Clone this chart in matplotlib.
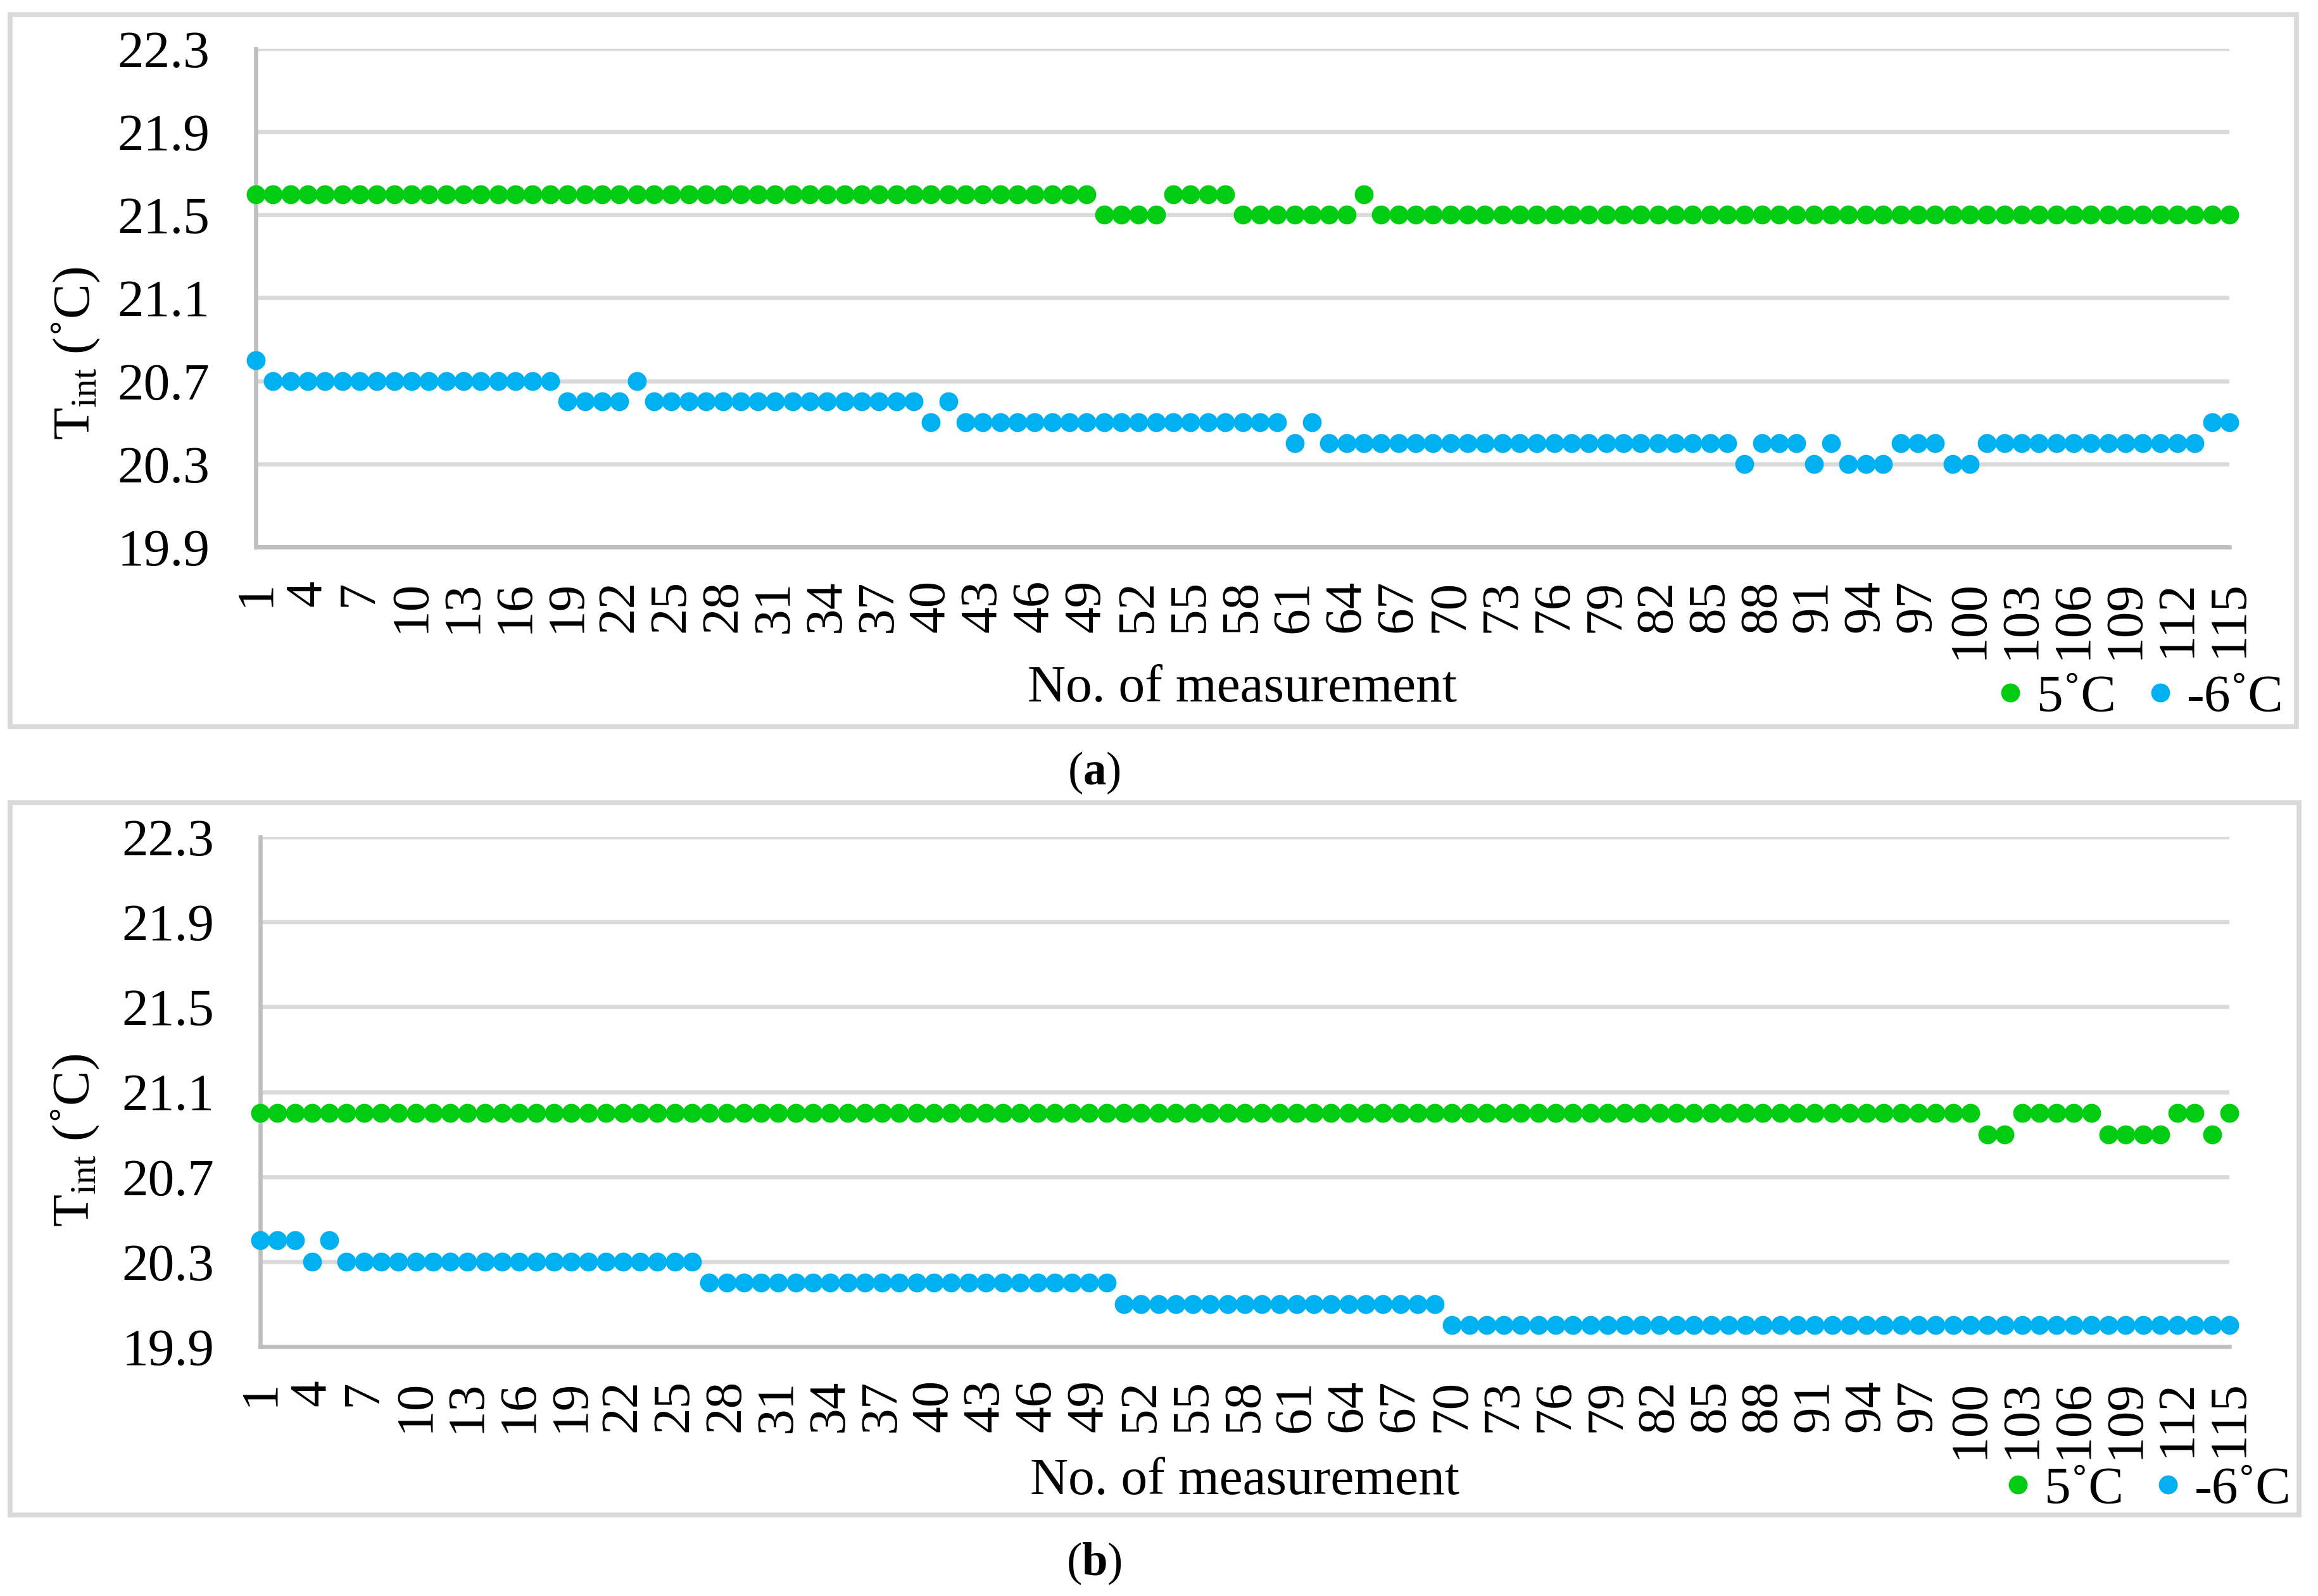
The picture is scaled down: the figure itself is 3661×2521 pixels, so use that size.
import numpy as np
import matplotlib
matplotlib.use("Agg")
import matplotlib.pyplot as plt
from matplotlib.patches import Rectangle

plt.rcParams['font.family'] = ['Liberation Serif', 'DejaVu Serif']
plt.rcParams['mathtext.fontset'] = 'custom'
plt.rcParams['mathtext.rm'] = 'Liberation Serif'
plt.rcParams['mathtext.it'] = 'Liberation Serif:italic'
plt.rcParams['mathtext.bf'] = 'Liberation Serif:bold'

W, H, DPI = 3661, 2521, 250

# --- data ---
n_meas = np.arange(1, 116)
x_ticks = list(range(1, 116, 3))
y_ticks = [19.9, 20.3, 20.7, 21.1, 21.5, 21.9, 22.3]
series_names = ["5˚C", "-6˚C"]

# panel (a)
a_5c = [
    21.6, 21.6, 21.6, 21.6, 21.6, 21.6, 21.6, 21.6, 21.6, 21.6,
    21.6, 21.6, 21.6, 21.6, 21.6, 21.6, 21.6, 21.6, 21.6, 21.6,
    21.6, 21.6, 21.6, 21.6, 21.6, 21.6, 21.6, 21.6, 21.6, 21.6,
    21.6, 21.6, 21.6, 21.6, 21.6, 21.6, 21.6, 21.6, 21.6, 21.6,
    21.6, 21.6, 21.6, 21.6, 21.6, 21.6, 21.6, 21.6, 21.6, 21.5,
    21.5, 21.5, 21.5, 21.6, 21.6, 21.6, 21.6, 21.5, 21.5, 21.5,
    21.5, 21.5, 21.5, 21.5, 21.6, 21.5, 21.5, 21.5, 21.5, 21.5,
    21.5, 21.5, 21.5, 21.5, 21.5, 21.5, 21.5, 21.5, 21.5, 21.5,
    21.5, 21.5, 21.5, 21.5, 21.5, 21.5, 21.5, 21.5, 21.5, 21.5,
    21.5, 21.5, 21.5, 21.5, 21.5, 21.5, 21.5, 21.5, 21.5, 21.5,
    21.5, 21.5, 21.5, 21.5, 21.5, 21.5, 21.5, 21.5, 21.5, 21.5,
    21.5, 21.5, 21.5, 21.5, 21.5,
]
a_m6c = [
    20.8, 20.7, 20.7, 20.7, 20.7, 20.7, 20.7, 20.7, 20.7, 20.7,
    20.7, 20.7, 20.7, 20.7, 20.7, 20.7, 20.7, 20.7, 20.6, 20.6,
    20.6, 20.6, 20.7, 20.6, 20.6, 20.6, 20.6, 20.6, 20.6, 20.6,
    20.6, 20.6, 20.6, 20.6, 20.6, 20.6, 20.6, 20.6, 20.6, 20.5,
    20.6, 20.5, 20.5, 20.5, 20.5, 20.5, 20.5, 20.5, 20.5, 20.5,
    20.5, 20.5, 20.5, 20.5, 20.5, 20.5, 20.5, 20.5, 20.5, 20.5,
    20.4, 20.5, 20.4, 20.4, 20.4, 20.4, 20.4, 20.4, 20.4, 20.4,
    20.4, 20.4, 20.4, 20.4, 20.4, 20.4, 20.4, 20.4, 20.4, 20.4,
    20.4, 20.4, 20.4, 20.4, 20.4, 20.4, 20.3, 20.4, 20.4, 20.4,
    20.3, 20.4, 20.3, 20.3, 20.3, 20.4, 20.4, 20.4, 20.3, 20.3,
    20.4, 20.4, 20.4, 20.4, 20.4, 20.4, 20.4, 20.4, 20.4, 20.4,
    20.4, 20.4, 20.4, 20.5, 20.5,
]

# panel (b)
b_5c = [
    21.0, 21.0, 21.0, 21.0, 21.0, 21.0, 21.0, 21.0, 21.0, 21.0,
    21.0, 21.0, 21.0, 21.0, 21.0, 21.0, 21.0, 21.0, 21.0, 21.0,
    21.0, 21.0, 21.0, 21.0, 21.0, 21.0, 21.0, 21.0, 21.0, 21.0,
    21.0, 21.0, 21.0, 21.0, 21.0, 21.0, 21.0, 21.0, 21.0, 21.0,
    21.0, 21.0, 21.0, 21.0, 21.0, 21.0, 21.0, 21.0, 21.0, 21.0,
    21.0, 21.0, 21.0, 21.0, 21.0, 21.0, 21.0, 21.0, 21.0, 21.0,
    21.0, 21.0, 21.0, 21.0, 21.0, 21.0, 21.0, 21.0, 21.0, 21.0,
    21.0, 21.0, 21.0, 21.0, 21.0, 21.0, 21.0, 21.0, 21.0, 21.0,
    21.0, 21.0, 21.0, 21.0, 21.0, 21.0, 21.0, 21.0, 21.0, 21.0,
    21.0, 21.0, 21.0, 21.0, 21.0, 21.0, 21.0, 21.0, 21.0, 21.0,
    20.9, 20.9, 21.0, 21.0, 21.0, 21.0, 21.0, 20.9, 20.9, 20.9,
    20.9, 21.0, 21.0, 20.9, 21.0,
]
b_m6c = [
    20.4, 20.4, 20.4, 20.3, 20.4, 20.3, 20.3, 20.3, 20.3, 20.3,
    20.3, 20.3, 20.3, 20.3, 20.3, 20.3, 20.3, 20.3, 20.3, 20.3,
    20.3, 20.3, 20.3, 20.3, 20.3, 20.3, 20.2, 20.2, 20.2, 20.2,
    20.2, 20.2, 20.2, 20.2, 20.2, 20.2, 20.2, 20.2, 20.2, 20.2,
    20.2, 20.2, 20.2, 20.2, 20.2, 20.2, 20.2, 20.2, 20.2, 20.2,
    20.1, 20.1, 20.1, 20.1, 20.1, 20.1, 20.1, 20.1, 20.1, 20.1,
    20.1, 20.1, 20.1, 20.1, 20.1, 20.1, 20.1, 20.1, 20.1, 20.0,
    20.0, 20.0, 20.0, 20.0, 20.0, 20.0, 20.0, 20.0, 20.0, 20.0,
    20.0, 20.0, 20.0, 20.0, 20.0, 20.0, 20.0, 20.0, 20.0, 20.0,
    20.0, 20.0, 20.0, 20.0, 20.0, 20.0, 20.0, 20.0, 20.0, 20.0,
    20.0, 20.0, 20.0, 20.0, 20.0, 20.0, 20.0, 20.0, 20.0, 20.0,
    20.0, 20.0, 20.0, 20.0, 20.0,
]

GREEN = "#00CC11"
BLUE = "#00B0F0"
GRID = "#D9D9D9"
AXIS = "#BFBFBF"
FS = 24


def px(x, y):
    # full-size pixel coords (top-left origin) -> figure fraction
    return x / W, 1 - y / H


def panel(fig, rect, warm, cold, ylab_xy, xlab_xy, leg_xy, cap_xy, letter, box):
    x0, y0, x1, y1 = box
    fig.patches.append(Rectangle(px(x0, y1), (x1 - x0) / W, (y1 - y0) / H,
                                 transform=fig.transFigure, fill=False,
                                 edgecolor=GRID, lw=2.2, zorder=0))
    ax = fig.add_axes(rect)
    ax.plot(n_meas, warm, "o", color=GREEN, ms=8.6, mew=0, clip_on=False,
            label=series_names[0], zorder=3)
    ax.plot(n_meas, cold, "o", color=BLUE, ms=8.6, mew=0, clip_on=False,
            label=series_names[1], zorder=3)
    ax.set_xlim(1, 115)
    ax.set_ylim(19.9, 22.3)
    ax.set_yticks(y_ticks)
    ax.set_yticklabels([f"{v:.1f}" for v in y_ticks])
    ax.set_xticks(x_ticks)
    ax.set_xticklabels([str(v) for v in x_ticks], rotation=90)
    ax.tick_params(axis="y", length=0, pad=21, labelsize=FS)
    ax.tick_params(axis="x", length=0, pad=15, labelsize=FS)
    ax.grid(axis="y", color=GRID, lw=1.9, zorder=0)
    ax.set_axisbelow(True)
    for s in ["top", "right"]:
        ax.spines[s].set_visible(False)
    for s in ["left", "bottom"]:
        ax.spines[s].set_color(AXIS)
        ax.spines[s].set_linewidth(1.9)

    fig.text(*px(*ylab_xy), "T$_{\\mathrm{int}}$ (˚C)", rotation=90,
             ha="center", va="center", fontsize=FS)
    fig.text(*px(*xlab_xy), "No. of measurement", ha="center", va="center",
             fontsize=FS)
    fig.text(*px(*cap_xy), "($\\mathbf{" + letter + "}$)", ha="center",
             va="center", fontsize=21)
    ax.legend(loc="center right", bbox_to_anchor=px(*leg_xy),
              bbox_transform=fig.transFigure, ncol=2, frameon=False,
              fontsize=FS, handlelength=0.5, handletextpad=0.25,
              columnspacing=0.6, borderpad=0, borderaxespad=0, markerscale=1.0)
    return ax


fig = plt.figure(figsize=(W / DPI, H / DPI), dpi=DPI)

panel(fig, [404 / W, 1 - 864 / H, (3521 - 404) / W, (864 - 77) / H],
      a_5c, a_m6c, (120, 558), (1962, 1088), (3607, 1103), (1728, 1221), "a",
      (16, 23, 3627, 1148))
panel(fig, [411 / W, 1 - 2127 / H, (3521 - 411) / W, (2127 - 1322) / H],
      b_5c, b_m6c, (119, 1801), (1966, 2340), (3619, 2354), (1728, 2470), "b",
      (16, 1268, 3631, 2393))

fig.savefig("out.png", dpi=DPI, facecolor="white")
